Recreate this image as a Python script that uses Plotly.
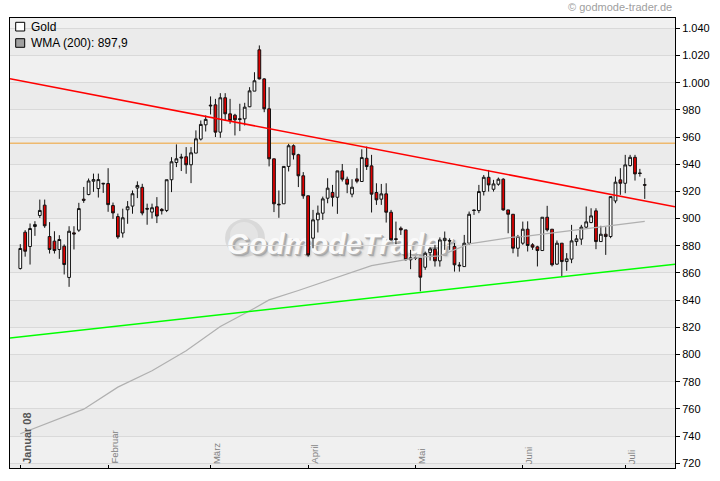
import pandas as pd
import plotly.graph_objects as go

# trading days on the chart (no quote on Good Friday)
dates = pd.bdate_range("2008-01-08", "2008-07-07").drop(pd.Timestamp("2008-03-21"))

opens = [863.3, 890.0, 879.5, 894.2, 902.3, 909.9, 886.8, 883.4, 877.3, 879.7,
         856.7, 889.5, 891.5, 914.3, 917.7, 927.5, 922.1, 926.0, 925.8, 909.6,
         901.5, 889.4, 906.5, 909.2, 922.5, 923.0, 907.5, 904.8, 908.7, 906.8,
         906.0, 928.6, 941.3, 945.3, 945.5, 939.6, 948.2, 958.5, 969.0, 983.5,
         983.7, 963.6, 988.9, 977.1, 976.1, 973.5, 973.4, 982.3, 993.8, 1024.2,
         1002.8, 980.8, 944.0, 910.6, 910.9, 938.4, 953.6, 947.0, 931.5, 916.8,
         885.6, 899.1, 904.0, 915.0, 919.2, 915.7, 935.1, 929.0, 918.0, 929.2,
         927.3, 944.4, 938.8, 919.2, 914.3, 918.2, 904.7, 885.2, 892.9, 891.7,
         869.7, 871.2, 870.8, 864.2, 875.0, 877.5, 868.9, 883.8, 883.9, 879.5,
         865.8, 864.7, 881.9, 906.3, 905.9, 919.9, 930.4, 921.6, 925.3, 929.0,
         906.4, 903.2, 878.2, 881.9, 892.2, 880.7, 879.2, 876.5, 901.0, 892.2,
         866.5, 881.9, 868.4, 870.2, 883.1, 884.9, 893.7, 897.1, 905.7, 883.1,
         888.5, 886.8, 913.0, 928.5, 926.0, 939.0, 945.1, 933.6, 925.0]
highs = [881.2, 891.5, 896.4, 898.1, 914.0, 914.0, 897.4, 890.7, 887.8, 881.0,
         894.4, 894.4, 911.6, 923.3, 929.5, 933.1, 933.1, 926.3, 937.1, 911.8,
         903.7, 907.3, 912.9, 920.7, 927.4, 925.6, 911.0, 911.0, 915.8, 907.7,
         928.6, 945.2, 954.6, 947.7, 952.6, 952.6, 964.9, 972.2, 975.9, 989.9,
         988.1, 992.3, 992.3, 988.1, 977.1, 984.5, 985.2, 996.7, 1007.7, 1027.4,
         1003.3, 996.7, 944.0, 920.7, 938.4, 955.0, 954.6, 947.7, 934.2, 916.8,
         906.4, 909.6, 916.2, 929.7, 924.8, 935.1, 940.2, 930.9, 929.0, 937.1,
         951.0, 953.0, 946.9, 926.0, 925.5, 926.0, 906.4, 897.8, 894.2, 891.7,
         877.0, 872.0, 870.8, 875.7, 878.9, 880.7, 886.2, 890.5, 885.5, 882.0,
         868.0, 888.0, 905.2, 906.6, 924.8, 932.1, 935.8, 928.5, 930.2, 929.7,
         906.4, 903.2, 888.0, 897.8, 898.0, 881.9, 880.0, 901.0, 909.4, 892.2,
         883.9, 881.9, 874.6, 895.4, 888.0, 895.4, 908.9, 907.6, 907.6, 894.7,
         893.7, 916.2, 930.9, 937.1, 946.9, 946.9, 946.9, 936.6, 929.7]
lows = [862.5, 872.0, 866.2, 887.3, 900.5, 893.2, 874.3, 874.3, 870.4, 858.9,
        849.8, 877.3, 890.2, 911.6, 917.2, 919.7, 915.5, 918.9, 905.0, 899.8,
        885.1, 886.0, 896.2, 903.6, 915.1, 902.4, 895.5, 900.0, 896.7, 903.0,
        904.8, 919.5, 937.9, 935.0, 933.0, 926.1, 948.2, 957.5, 964.1, 976.6,
        960.0, 959.5, 972.2, 969.8, 961.2, 964.4, 968.5, 982.0, 993.8, 1002.4,
        978.3, 938.4, 904.8, 900.6, 910.9, 934.7, 943.5, 923.2, 914.6, 872.0,
        878.2, 889.8, 899.1, 911.3, 908.9, 903.5, 927.3, 918.7, 915.7, 926.0,
        927.3, 935.8, 904.5, 910.1, 910.1, 897.1, 883.8, 881.2, 888.0, 869.2,
        862.8, 869.5, 846.5, 862.3, 869.1, 864.7, 864.7, 877.0, 877.0, 861.0,
        861.0, 864.7, 880.7, 902.7, 904.0, 917.0, 919.9, 919.9, 924.2, 905.9,
        889.2, 874.5, 872.0, 880.7, 875.8, 877.0, 864.8, 876.5, 890.5, 864.8,
        866.0, 857.4, 861.6, 867.2, 880.0, 880.7, 893.0, 896.6, 877.5, 883.1,
        873.3, 885.6, 911.3, 917.5, 918.7, 938.3, 928.0, 930.9, 914.5]
closes = [878.0, 876.0, 892.7, 895.6, 906.0, 894.7, 877.3, 876.5, 884.6, 866.2,
          890.7, 888.7, 907.4, 913.5, 927.7, 928.7, 928.7, 925.6, 910.3, 904.2,
          886.5, 900.6, 908.7, 918.3, 924.4, 904.1, 907.0, 908.0, 901.9, 905.8,
          928.6, 941.8, 944.0, 944.7, 939.6, 948.4, 958.7, 969.3, 973.0, 983.0,
          963.6, 988.9, 977.1, 972.2, 972.7, 973.0, 982.0, 994.0, 1001.4, 1002.8,
          980.8, 944.0, 910.9, 910.2, 938.4, 953.6, 947.0, 931.5, 916.8, 873.3,
          899.1, 904.0, 914.5, 922.4, 915.7, 935.1, 929.0, 925.3, 923.1, 927.5,
          944.9, 938.3, 918.0, 913.8, 918.2, 904.7, 884.4, 884.7, 891.7, 869.7,
          871.1, 870.8, 856.9, 874.5, 877.7, 868.9, 884.3, 885.5, 883.5, 866.0,
          865.3, 881.9, 903.2, 906.0, 919.9, 930.4, 924.8, 925.5, 929.0, 906.4,
          903.2, 878.2, 886.8, 892.2, 880.2, 879.0, 876.5, 901.0, 891.7, 866.0,
          881.9, 868.4, 870.4, 883.6, 885.1, 893.7, 897.6, 902.0, 883.1, 888.5,
          886.8, 916.2, 926.8, 926.0, 939.5, 945.1, 932.9, 933.2, 924.6]

# WMA (200), read at some trading days
wma_day = [0, 13, 20, 27, 34, 41, 48, 51, 57, 61, 72, 82, 86, 92, 101, 103, 115, 128]
wma_val = [741.7, 759.8, 776.0, 788.0, 802.7, 820.6, 834.1, 840.2, 847.1, 852.0,
           865.4, 871.6, 872.6, 881.4, 886.3, 886.8, 892.2, 897.9]

# trend lines, value at left and right edge of the chart
trend_day = [-2.11, 134.2]
red_trend = [1002.9, 908.7]
green_trend = [812.1, 866.4]
resistance = 955.5

month_names = ["Januar 08", "Februar", "März", "April", "Mai", "Juni", "Juli"]

day = list(range(len(dates)))
month_pos = [i for i in day if i == 0 or dates[i].month != dates[i - 1].month]

fig = go.Figure()

fig.add_trace(go.Candlestick(
    x=day, open=opens, high=highs, low=lows, close=closes,
    increasing=dict(line=dict(color="#111111", width=1), fillcolor="#ffffff"),
    decreasing=dict(line=dict(color="#111111", width=1), fillcolor="#e00000"),
    whiskerwidth=0, showlegend=False, name="Gold"))

fig.add_trace(go.Scatter(x=wma_day, y=wma_val, mode="lines",
                         line=dict(color="#b0b0b0", width=1.2), showlegend=False))
fig.add_trace(go.Scatter(x=trend_day, y=red_trend, mode="lines",
                         line=dict(color="#ff0000", width=1.5), showlegend=False))
fig.add_trace(go.Scatter(x=trend_day, y=green_trend, mode="lines",
                         line=dict(color="#00ff00", width=1.5), showlegend=False))

y_lo, y_hi = 716.5, 1047.6
shapes = []
# alternating background bands between the grid lines
for v in range(700, 1060, 20):
    shapes.append(dict(type="rect", xref="paper", yref="y", x0=0, x1=1,
                       y0=max(v, y_lo), y1=min(v + 20, y_hi), layer="below",
                       line=dict(width=0),
                       fillcolor="#f0f0f0" if v % 40 == 0 else "#ebebeb"))
# watermark: grey ball plus embossed lettering
shapes.append(dict(type="circle", xref="paper", yref="paper", xsizemode="pixel", ysizemode="pixel",
                   xanchor=0.3534, yanchor=0.5111, x0=-20, x1=20, y0=-19, y1=19,
                   fillcolor="#d9d9d9", line=dict(width=0), layer="between"))
shapes.append(dict(type="circle", xref="paper", yref="paper", xsizemode="pixel", ysizemode="pixel",
                   xanchor=0.3534, yanchor=0.5111, x0=-15, x1=13, y0=-12, y1=16,
                   fillcolor="#e4e4e4", line=dict(width=0), layer="between"))
shapes.append(dict(type="rect", xref="paper", yref="paper", x0=0.30, x1=0.69, y0=0.45, y1=0.56,
                   line=dict(width=0), fillcolor="rgba(0,0,0,0)", layer="between",
                   label=dict(text="GodmodeTrader", textposition="middle center",
                              font=dict(family="Liberation Sans Narrow, Liberation Sans", size=29,
                                        color="#fafafa", weight="bold", style="italic",
                                        shadow="1px 1px 0px #b4b4b4, 2px 2px 0px #a8a8a8, "
                                               "3px 3px 2px #c4c4c4"))))
shapes.append(dict(type="line", xref="paper", yref="y", x0=0, x1=1, y0=resistance, y1=resistance,
                   line=dict(color="#f0a030", width=1), layer="between"))
# legend boxes
shapes.append(dict(type="rect", xref="paper", yref="paper", xsizemode="pixel", ysizemode="pixel",
                   xanchor=0, yanchor=1, x0=5.7, x1=14.7, y0=-4.3, y1=-13,
                   fillcolor="#ffffff", line=dict(color="#000000", width=1)))
shapes.append(dict(type="rect", xref="paper", yref="paper", xsizemode="pixel", ysizemode="pixel",
                   xanchor=0, yanchor=1, x0=5.7, x1=14.7, y0=-20.7, y1=-29.3,
                   fillcolor="#a0a0a0", line=dict(color="#000000", width=1)))

annotations = [
    dict(text="Gold", xref="paper", yref="paper", x=0, y=1, xanchor="left", yanchor="middle",
         xshift=19, yshift=-8.7, showarrow=False, font=dict(family="Arial", size=12, color="#000000")),
    dict(text="WMA (200): 897,9", xref="paper", yref="paper", x=0, y=1, xanchor="left", yanchor="middle",
         xshift=19, yshift=-24.7, showarrow=False, font=dict(family="Arial", size=12, color="#000000")),
    dict(text="© godmode-trader.de", xref="paper", yref="paper", x=1, y=1, xanchor="right",
         yanchor="middle", xshift=-1.5, yshift=11, showarrow=False,
         font=dict(family="Arial", size=11, color="#a0a0a0")),
]
# month names stand upright inside the chart, just right of their tick
for i, (pos, name) in enumerate(zip(month_pos, month_names)):
    first = i == 0
    annotations.append(dict(
        text="<b>%s</b>" % name if first else name, xref="x", yref="paper", x=pos, y=0,
        xanchor="center", yanchor="bottom", xshift=6, yshift=3, textangle=-90,
        showarrow=False, borderpad=0,
        font=dict(family="Arial", size=11 if first else 9.5,
                  color="#555555" if first else "#808080")))

fig.update_layout(
    width=720, height=481,
    margin=dict(l=10, r=45, t=18, b=13),
    paper_bgcolor="#ffffff", plot_bgcolor="#eeeeee",
    separators=",.",
    boxgap=0.2,
    showlegend=False,
    shapes=shapes, annotations=annotations,
    xaxis=dict(range=trend_day, tickvals=month_pos, showticklabels=False, automargin=False,
               ticks="inside", ticklen=3, tickcolor="#000000",
               showgrid=False, zeroline=False, showline=True, mirror=True,
               linecolor="#000000", linewidth=1, rangeslider=dict(visible=False)),
    yaxis=dict(range=[y_lo, y_hi], side="right", dtick=20, tick0=0, tickformat=",d", automargin=False,
               ticks="outside", ticklen=4, tickcolor="#000000",
               separatethousands=True,
               tickfont=dict(family="Arial", size=11, color="#000000"),
               showgrid=True, gridcolor="#d9d9d9", gridwidth=1, zeroline=False,
               showline=True, mirror=True, linecolor="#000000", linewidth=1),
)

# the page has no margin of its own, so the figure sits at the window corner
fig.write_html("out.html", config={"displayModeBar": False},
               post_script="document.body.style.margin='0';")
